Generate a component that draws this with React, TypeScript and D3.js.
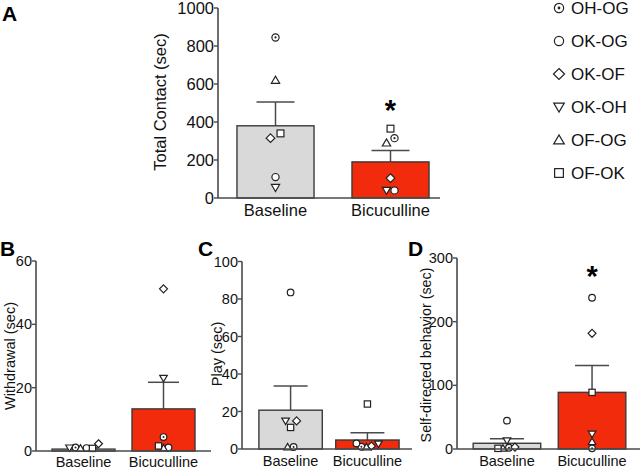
import React from "react";
import * as d3 from "d3";

const groups = ["Baseline", "Bicuculline"];
const seriesNames = ["OH-OG", "OK-OG", "OK-OF", "OK-OH", "OF-OG", "OF-OK"];
const seriesShapes = ["dotcircle", "circle", "diamond", "down", "up", "square"];

// Panel A: Total contact (sec)
const contactMeans = [380, 190];
const contactSem = [125, 60];
const contactBaseline = [845, 110, 315, 55, 620, 340];
const contactBicuculline = [315, 40, 105, 40, 290, 365];
const contactTicks = [0, 200, 400, 600, 800, 1000];

// Panel B: Withdrawal (sec)
const withdrawalMeans = [0.6, 13.3];
const withdrawalSem = [0.4, 8.4];
const withdrawalBaseline = [0.5, 0.3, 2.3, 1.0, 0.2, 0.2];
const withdrawalBicuculline = [4.4, 0.5, 51.2, 23, 0.3, 1.6];
const withdrawalTicks = [0, 20, 40, 60];

// Panel C: Play (sec)
const playMeans = [20.7, 4.8];
const playSem = [12.9, 3.9];
const playBaseline = [0, 83.5, 15, 15, 0, 11.5];
const playBicuculline = [1.2, 3, 0.5, 2.7, 0, 24];
const playTicks = [0, 20, 40, 60, 80, 100];

// Panel D: Self-directed behavior (sec)
const selfMeans = [9, 89];
const selfSem = [7, 42];
const selfBaseline = [2, 44.5, 3, 13, 1, 1];
const selfBicuculline = [1, 237.6, 181.7, 23.5, 11.5, 89];
const selfTicks = [0, 100, 200, 300];

// horizontal jitter of the individual points (layout, px)
const jitterA = [[0, 0, -5, 0, 0, 5], [4, 4, 0, -4, -4, 0]];
const jitterB = [[-8, 3, 15, -14, -3, 9], [0, 5, 0, 0, 0, -5]];
const jitterC = [[3, 0, 6, -5, -3, 0], [-6, -11, 4, 11, -1, 0]];
const jitterD = [[2, 0, 8, 0, -4, -9], [0, 0, 0, 0, 0, 0]];

const FONT = "'Liberation Sans', Arial, Helvetica, sans-serif";
const AXIS = "#4a4a4a";
const FILLS = ["#d9d9d9", "#f22b0c"];

function Marker({ type, x, y, r }: { type: string; x: number; y: number; r: number }) {
  const common = { fill: "#fff", stroke: "#222", strokeWidth: 1.2 };
  if (type === "dotcircle") {
    return (
      <g>
        <circle cx={x} cy={y} r={r} {...common} />
        <circle cx={x} cy={y} r={r * 0.3} fill="#222" />
      </g>
    );
  }
  if (type === "circle") return <circle cx={x} cy={y} r={r} {...common} />;
  if (type === "square")
    return <rect x={x - r * 0.95} y={y - r * 0.95} width={r * 1.9} height={r * 1.9} {...common} />;
  if (type === "diamond") {
    const s = r * 1.2;
    return <path d={`M${x},${y - s}L${x + s},${y}L${x},${y + s}L${x - s},${y}Z`} {...common} />;
  }
  if (type === "down") {
    const s = r * 1.15;
    return <path d={`M${x - s},${y - s * 0.75}L${x + s},${y - s * 0.75}L${x},${y + s * 0.95}Z`} {...common} />;
  }
  const s = r * 1.15;
  return <path d={`M${x - s},${y + s * 0.75}L${x + s},${y + s * 0.75}L${x},${y - s * 0.95}Z`} {...common} />;
}

type PanelProps = {
  label: string;
  labelX: number;
  labelY: number;
  axisX: number;
  axisEnd: number;
  bandEnd: number;
  padInner: number;
  padOuter: number;
  yTop: number;
  yBottom: number;
  max: number;
  ticks: number[];
  means: number[];
  sems: number[];
  points: number[][];
  jitter: number[][];
  title: string;
  titleX: number;
  titleY: number;
  fontSize: number;
  titleSize: number;
  catY: number;
  star?: number;
  markerR: number;
  capW: number;
};

function Panel(p: PanelProps) {
  const y = d3.scaleLinear().domain([0, p.max]).range([p.yBottom, p.yTop]);
  const x = d3
    .scaleBand<string>()
    .domain(groups)
    .range([p.axisX, p.bandEnd])
    .paddingInner(p.padInner)
    .paddingOuter(p.padOuter);
  const bw = x.bandwidth();
  return (
    <g fontFamily={FONT}>
      <text x={p.labelX} y={p.labelY} fontSize={21} fontWeight="bold" fill="#000">
        {p.label}
      </text>
      {groups.map((g, i) => {
        const x0 = x(g) as number;
        const cx = x0 + bw / 2;
        const top = y(p.means[i]);
        const errTop = y(p.means[i] + p.sems[i]);
        return (
          <g key={g}>
            <line x1={cx} x2={cx} y1={top} y2={errTop} stroke={AXIS} strokeWidth={1.5} />
            <line x1={cx - p.capW / 2} x2={cx + p.capW / 2} y1={errTop} y2={errTop} stroke={AXIS} strokeWidth={1.5} />
            <rect
              x={x0}
              y={top}
              width={bw}
              height={Math.max(0, p.yBottom - top)}
              fill={FILLS[i]}
              stroke="#3a3a3a"
              strokeWidth={1.4}
            />
          </g>
        );
      })}
      {groups.map((g, i) => {
        const cx = (x(g) as number) + bw / 2;
        return (
          <g key={g + "pts"}>
            {p.points[i].map((v, k) => (
              <Marker key={k} type={seriesShapes[k]} x={cx + p.jitter[i][k]} y={y(v) - (v < 1 ? p.markerR * 0.6 : 0)} r={p.markerR} />
            ))}
          </g>
        );
      })}
      {p.star !== undefined && (
        <text
          x={(x(groups[1]) as number) + bw / 2}
          y={y(p.star) + 17}
          fontSize={29}
          fontWeight="bold"
          textAnchor="middle"
          fill="#000"
        >
          *
        </text>
      )}
      <line x1={p.axisX} x2={p.axisX} y1={p.yTop} y2={p.yBottom} stroke={AXIS} strokeWidth={1.6} />
      <line x1={p.axisX} x2={p.axisEnd} y1={p.yBottom} y2={p.yBottom} stroke={AXIS} strokeWidth={1.6} />
      {p.ticks.map((t) => (
        <g key={t}>
          <line x1={p.axisX - 4} x2={p.axisX} y1={y(t)} y2={y(t)} stroke={AXIS} strokeWidth={1.4} />
          <text
            x={p.axisX - 4}
            y={y(t)}
            dy="0.35em"
            textAnchor="end"
            fontSize={p.fontSize}
            fill="#111"
          >
            {t}
          </text>
        </g>
      ))}
      {groups.map((g) => (
        <text
          key={g + "lab"}
          x={(x(g) as number) + bw / 2}
          y={p.catY}
          textAnchor="middle"
          fontSize={p.fontSize}
          fill="#111"
        >
          {g}
        </text>
      ))}
      <text
        transform={`translate(${p.titleX},${p.titleY}) rotate(-90)`}
        textAnchor="middle"
        dy="0.35em"
        fontSize={p.titleSize}
        fill="#111"
      >
        {p.title}
      </text>
    </g>
  );
}

export default function App() {
  return (
    <svg
      width={640}
      height={469}
      style={{ position: "absolute", left: 0, top: 0, background: "#fff" }}
    >
      <rect width={640} height={469} fill="#fff" />
      <Panel
        label="A"
        labelX={2}
        labelY={21}
        axisX={218}
        axisEnd={440}
        bandEnd={448}
        padInner={0.33}
        padOuter={0.165}
        yTop={8}
        yBottom={198}
        max={1000}
        ticks={contactTicks}
        means={contactMeans}
        sems={contactSem}
        points={[contactBaseline, contactBicuculline]}
        jitter={jitterA}
        title="Total Contact (sec)"
        titleX={160}
        titleY={102}
        fontSize={16.5}
        titleSize={16.5}
        catY={216}
        star={500}
        markerR={3.6}
        capW={38}
      />
      <Panel
        label="B"
        labelX={0}
        labelY={256}
        axisX={36}
        axisEnd={211}
        bandEnd={211}
        padInner={0.2125}
        padOuter={0.2}
        yTop={261}
        yBottom={451}
        max={60}
        ticks={withdrawalTicks}
        means={withdrawalMeans}
        sems={withdrawalSem}
        points={[withdrawalBaseline, withdrawalBicuculline]}
        jitter={jitterB}
        title="Withdrawal (sec)"
        titleX={10}
        titleY={356}
        fontSize={14.5}
        titleSize={14.5}
        catY={467}
        markerR={3.3}
        capW={31}
      />
      <Panel
        label="C"
        labelX={198}
        labelY={256}
        axisX={242}
        axisEnd={412}
        bandEnd={416}
        padInner={0.175}
        padOuter={0.22}
        yTop={261.5}
        yBottom={449}
        max={100}
        ticks={playTicks}
        means={playMeans}
        sems={playSem}
        points={[playBaseline, playBicuculline]}
        jitter={jitterC}
        title="Play (sec)"
        titleX={217}
        titleY={354}
        fontSize={14.5}
        titleSize={14.5}
        catY={466}
        markerR={3.3}
        capW={34}
      />
      <Panel
        label="D"
        labelX={408}
        labelY={256}
        axisX={457}
        axisEnd={640}
        bandEnd={642}
        padInner={0.206}
        padOuter={0.19}
        yTop={258}
        yBottom={449}
        max={300}
        ticks={selfTicks}
        means={selfMeans}
        sems={selfSem}
        points={[selfBaseline, selfBicuculline]}
        jitter={jitterD}
        title="Self-directed behavior (sec)"
        titleX={426}
        titleY={355}
        fontSize={14.5}
        titleSize={14.3}
        catY={466}
        star={282}
        markerR={3.3}
        capW={34}
      />
      <g fontFamily={FONT}>
        {seriesNames.map((n, i) => {
          const ly = 8 + i * 33;
          return (
            <g key={n}>
              <Marker type={seriesShapes[i]} x={559} y={ly} r={4.6} />
              <text x={571} y={ly} dy="0.36em" fontSize={17} fill="#111">
                {n}
              </text>
            </g>
          );
        })}
      </g>
    </svg>
  );
}
